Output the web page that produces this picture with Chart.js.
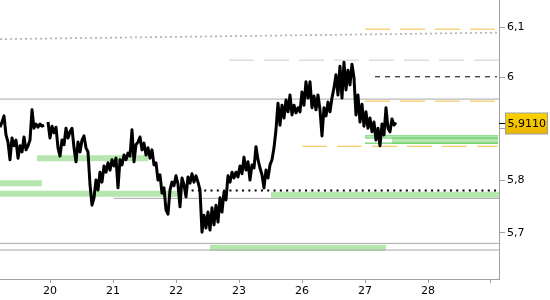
<!DOCTYPE html>
<html>
<head>
<meta charset="utf-8">
<script src="https://cdn.jsdelivr.net/npm/chart.js@4"></script>
<style>
  html, body { margin: 0; padding: 0; background: #fff; }
  canvas { display: block; }
</style>
</head>
<body>
<canvas id="chart" width="550" height="300"></canvas>
<script>
// trading days on the x axis (index 0..7), last tick has no label
const dayLabels = ['20', '21', '22', '23', '26', '27', '28', ''];
const yTicks = [5.7, 5.8, 5.9, 6, 6.1];

// intraday prices, one sample every 2/63 of a day starting at day index -0.794
const priceStart = -0.794;
const priceStep = 2 / 63;
const prices = [
  5.902, 5.912, 5.924, 5.887, 5.873, 5.839, 5.881, 5.866, 5.877, 5.842,
  5.866, 5.854, 5.883, 5.858, 5.866, 5.877, 5.936, 5.900, 5.908, 5.902,
  5.908, 5.904, 5.906, null, 5.912, 5.881, 5.904, 5.891, 5.902, 5.862,
  5.846, 5.877, 5.868, 5.900, 5.881, 5.893, 5.900, 5.862, 5.835, 5.873,
  5.854, 5.877, 5.885, 5.862, 5.854, 5.791, 5.752, 5.766, 5.800, 5.781,
  5.815, 5.796, 5.827, 5.815, 5.833, 5.819, 5.839, 5.827, 5.842, 5.785,
  5.839, 5.829, 5.848, 5.839, 5.852, 5.846, 5.897, 5.835, 5.868, 5.873,
  5.883, 5.858, 5.871, 5.848, 5.862, 5.842, 5.858, 5.829, 5.833, 5.800,
  5.810, 5.775, 5.785, 5.743, 5.735, 5.781, 5.796, 5.789, 5.808, 5.792,
  5.749, 5.804, 5.791, 5.768, 5.806, 5.794, 5.812, 5.796, 5.808, 5.796,
  5.781, 5.701, 5.733, 5.709, 5.739, 5.705, 5.747, 5.715, 5.752, 5.720,
  5.766, 5.739, 5.777, 5.762, 5.808, 5.796, 5.815, 5.804, 5.815, 5.806,
  5.827, 5.812, 5.844, 5.819, 5.835, 5.800, 5.829, 5.823, 5.864, 5.839,
  5.823, 5.810, 5.785, 5.819, 5.804, 5.829, 5.839, 5.862, 5.897, 5.949,
  5.906, 5.945, 5.920, 5.955, 5.932, 5.965, 5.926, 5.945, 5.930, 5.940,
  5.932, 5.971, 5.945, 5.991, 5.959, 5.991, 5.940, 5.963, 5.936, 5.965,
  5.936, 5.885, 5.940, 5.924, 5.951, 5.932, 5.959, 5.979, 6.005, 5.965,
  6.022, 5.959, 6.030, 5.975, 6.014, 5.985, 6.026, 5.999, 5.926, 5.965,
  5.912, 5.947, 5.904, 5.932, 5.900, 5.920, 5.893, 5.912, 5.877, 5.900,
  5.866, 5.908, 5.887, 5.940, 5.900, 5.893, 5.918, 5.906, 5.911
];
const lastPrice = 5.911;

// horizontal levels: [from day, to day, price]
const grayLevels = [[-0.794, 7.127, 5.957], [1.016, 7.127, 5.765], [-0.794, 7.127, 5.680], [-0.794, 7.127, 5.6675]];
const lightDashLevels = [[2.841, 7.127, 6.034]];
const orangeLevels = [[5.0, 7.063, 6.096], [5.0, 7.063, 5.953], [4.0, 7.111, 5.865]];
const blackDashLevels = [[5.159, 7.095, 6.001]];
const blackDotLevels = [[2.048, 7.095, 5.780]];
const greenLineLevels = [[5.0, 7.111, 5.885], [5.0, 7.111, 5.881], [5.0, 7.111, 5.871]];
const greenBands = [[-0.206, 1.556, 5.842], [-0.794, -0.127, 5.794], [-0.794, 2.063, 5.774], [3.508, 7.127, 5.772], [2.540, 5.333, 5.672], [5.429, 7.111, 5.876]];
// sloping dotted trend: [day, price] at both ends
const trendPoints = [[-0.794, 6.076], [7.127, 6.089]];

const X_MIN = -0.794, X_MAX = 7.127;
const Y_MIN = 5.6136, Y_MAX = 6.155;

Chart.defaults.font.family = '"DejaVu Sans", sans-serif';
Chart.defaults.font.size = 11;
Chart.defaults.color = '#000';

function flat(seg, color, width, dash, order) {
  return {
    data: [{ x: seg[0], y: seg[2] }, { x: seg[1], y: seg[2] }],
    borderColor: color,
    borderWidth: width,
    borderDash: dash,
    borderCapStyle: 'butt',
    pointRadius: 0,
    order: order
  };
}

const datasets = [];
datasets.push({
  data: prices.map((p, i) => ({ x: priceStart + i * priceStep, y: p })),
  borderColor: '#000',
  borderWidth: 3,
  borderJoinStyle: 'round',
  pointRadius: 0,
  spanGaps: false,
  order: 0
});
greenBands.forEach(b => datasets.push(flat(b, '#b4e6ad', 6, [], 4)));
grayLevels.forEach(l => datasets.push(flat(l, '#a8a8a8', 1, [], 3)));
lightDashLevels.forEach(l => datasets.push(flat(l, '#cccccc', 1, [25, 10], 3)));
orangeLevels.forEach(l => datasets.push(flat(l, '#f5bb45', 1, [25, 10], 3)));
blackDashLevels.forEach(l => datasets.push(flat(l, '#000', 1, [5, 5], 2)));
blackDotLevels.forEach(l => datasets.push(flat(l, '#000', 2, [2, 4.3], 1)));
greenLineLevels.forEach(l => datasets.push(flat(l, '#45c445', 1, [], 2)));
datasets.push({
  data: trendPoints.map(p => ({ x: p[0], y: p[1] })),
  borderColor: '#b4b4b4',
  borderWidth: 1.7,
  borderDash: [2, 3],
  pointRadius: 0,
  order: 3
});

const lastPriceTag = {
  id: 'lastPriceTag',
  afterDraw(chart) {
    const { ctx, chartArea } = chart;
    const py = Math.round(chart.scales.y.getPixelForValue(lastPrice)) + 0.5;
    ctx.save();
    ctx.strokeStyle = '#000';
    ctx.lineWidth = 1;
    ctx.beginPath();
    ctx.moveTo(chartArea.right, py);
    ctx.lineTo(chartArea.right + 6, py);
    ctx.stroke();
    const bx = chartArea.right + 6.5, bw = 42, bh = 21, by = py - 10.5;
    const g = ctx.createLinearGradient(0, by, 0, by + bh);
    g.addColorStop(0, '#fbd300');
    g.addColorStop(1, '#e9b600');
    ctx.fillStyle = g;
    ctx.fillRect(bx, by, bw, bh);
    ctx.strokeStyle = '#a0a0a0';
    ctx.strokeRect(bx, by, bw, bh);
    ctx.fillStyle = '#000';
    ctx.font = '11px "DejaVu Sans"';
    ctx.textBaseline = 'middle';
    ctx.fillText(lastPrice.toFixed(4).replace('.', ','), bx + 2, py + 1);
    ctx.restore();
  }
};

function noPad(s) {
  s.paddingTop = 0;
  s.paddingBottom = 0;
  s.paddingLeft = 0;
  s.paddingRight = 0;
}

new Chart(document.getElementById('chart'), {
  type: 'line',
  data: { datasets: datasets },
  options: {
    responsive: false,
    animation: false,
    layout: { padding: 0 },
    plugins: { legend: { display: false }, tooltip: { enabled: false } },
    scales: {
      x: {
        type: 'linear',
        min: X_MIN,
        max: X_MAX,
        afterBuildTicks: s => { s.ticks = dayLabels.map((_, i) => ({ value: i })); },
        afterFit: s => { s.height = 21; noPad(s); },
        ticks: {
          autoSkip: false,
          maxRotation: 0,
          padding: 2,
          callback: v => dayLabels[v]
        },
        grid: { drawOnChartArea: false, tickLength: 4, color: '#a0a0a0' },
        border: { color: '#a0a0a0' }
      },
      y: {
        type: 'logarithmic',
        position: 'right',
        min: Y_MIN,
        max: Y_MAX,
        bounds: 'data',
        afterBuildTicks: s => { s.ticks = yTicks.map(v => ({ value: v })); },
        afterFit: s => { s.width = 51; noPad(s); },
        ticks: {
          padding: 2,
          callback: v => (v === 5.9 ? '' : String(v).replace('.', ','))
        },
        grid: { drawOnChartArea: false, tickLength: 6, color: '#a0a0a0' },
        border: { color: '#a0a0a0' }
      }
    }
  },
  plugins: [lastPriceTag]
});
</script>
</body>
</html>
